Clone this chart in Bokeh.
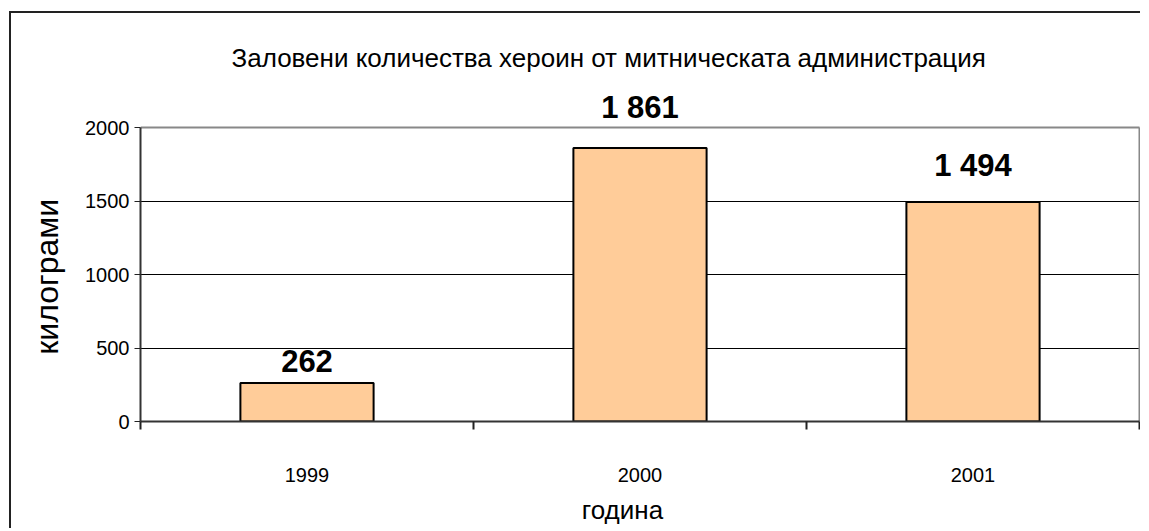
from bokeh.plotting import figure
from bokeh.models import ColumnDataSource, FixedTicker, Label, Range1d
from bokeh.embed import file_html
from bokeh.resources import INLINE

# Data
years = ["1999", "2000", "2001"]
values = [262, 1861, 1494]
y_ticks = [0, 500, 1000, 1500, 2000]

title_text = "Заловени количества хероин от митническата администрация"
x_label = "година"
y_label = "килограми"

FONT = "Liberation Sans"
NBSP = "\u00a0"

n = len(years)
ymax = y_ticks[-1]
xs = [i + 0.5 for i in range(n)]
labels = [f"{v:,}".replace(",", " ") for v in values]
src = ColumnDataSource(dict(x=xs, top=values))

# frame is taller than the value axis so labels above 2000 are not clipped
FRAME_H = 334
FRAME_W = 1000
y_end = ymax * FRAME_H / 294.0
x_end = n * FRAME_W / 999.0

p = figure(
    width=1140, height=528,
    min_border_left=140, min_border_right=0, min_border_top=87, min_border_bottom=107,
    x_range=Range1d(0, x_end), y_range=Range1d(0, y_end),
    output_backend="svg", toolbar_location=None,
)
p.styles = {"background-color": "white",
            "box-shadow": "inset 9px 11px 0 0 #ffffff, inset 11px 13px 0 0 #222222"}

# plot-area border (top and right, gray)
p.segment(x0=[0, n], y0=[ymax, 0], x1=[n, n], y1=[ymax, ymax],
          line_color="#888888", line_width=2)

p.vbar(x="x", top="top", width=0.4, bottom=0, source=src,
       fill_color="#FFCC99", line_color="black", line_width=2)

# data labels (individual vertical offsets as placed in the original)
label_offsets = [22, 40, 36]
for xv, yv, txt, off in zip(xs, values, labels, label_offsets):
    p.add_layout(Label(x=xv, y=yv, text=txt, y_offset=off,
                       text_align="center", text_baseline="middle",
                       text_font=FONT, text_font_size="31px",
                       text_font_style="bold", text_color="black"))

# Title
p.title.text = title_text
p.title.align = "left"
p.title.offset = 91
p.title.text_font = FONT
p.title.text_font_size = "26px"
p.title.text_font_style = "normal"
p.title.text_color = "black"
p.title.standoff = 30

# Frame
p.outline_line_color = None
p.background_fill_color = "white"
p.border_fill_color = None

# X axis
p.xaxis.ticker = FixedTicker(ticks=xs, minor_ticks=list(range(n + 1)))
p.xaxis.major_label_overrides = {x: y for x, y in zip(xs, years)}
p.xaxis.bounds = (0, n)
p.xaxis.major_tick_out = 0
p.xaxis.major_tick_in = 0
p.xaxis.minor_tick_out = 8
p.xaxis.minor_tick_in = 0
p.xaxis.minor_tick_line_color = "#222222"
p.xaxis.minor_tick_line_width = 2
p.xaxis.axis_line_color = "#333333"
p.xaxis.axis_line_width = 2
p.xaxis.major_label_standoff = 38
p.xaxis.major_label_text_font = FONT
p.xaxis.major_label_text_font_size = "20px"
p.xaxis.major_label_text_color = "black"
p.xaxis.axis_label = x_label + NBSP * 5
p.xaxis.axis_label_text_font = FONT
p.xaxis.axis_label_text_font_size = "26px"
p.xaxis.axis_label_text_font_style = "normal"
p.xaxis.axis_label_standoff = 10
p.xaxis.axis_label_text_color = "black"

# Y axis
p.yaxis.ticker = FixedTicker(ticks=y_ticks, minor_ticks=[])
p.yaxis.bounds = (0, ymax)
p.yaxis.major_tick_out = 6
p.yaxis.major_tick_in = 0
p.yaxis.major_tick_line_color = "#222222"
p.yaxis.major_tick_line_width = 1
p.yaxis.axis_line_color = "#333333"
p.yaxis.axis_line_width = 2
p.yaxis.major_label_standoff = 5
p.yaxis.major_label_text_font = FONT
p.yaxis.major_label_text_font_size = "20px"
p.yaxis.major_label_text_color = "black"
p.yaxis.axis_label = y_label + NBSP * 5
p.yaxis.axis_label_text_font = FONT
p.yaxis.axis_label_text_font_size = "32px"
p.yaxis.axis_label_text_font_style = "normal"
p.yaxis.axis_label_standoff = 17
p.yaxis.axis_label_text_color = "black"

# Grid
p.xgrid.grid_line_color = None
p.ygrid.ticker = FixedTicker(ticks=[500, 1000, 1500])
p.ygrid.grid_line_color = "black"
p.ygrid.grid_line_width = 1

open("out.html", "w").write(file_html(p, INLINE))
